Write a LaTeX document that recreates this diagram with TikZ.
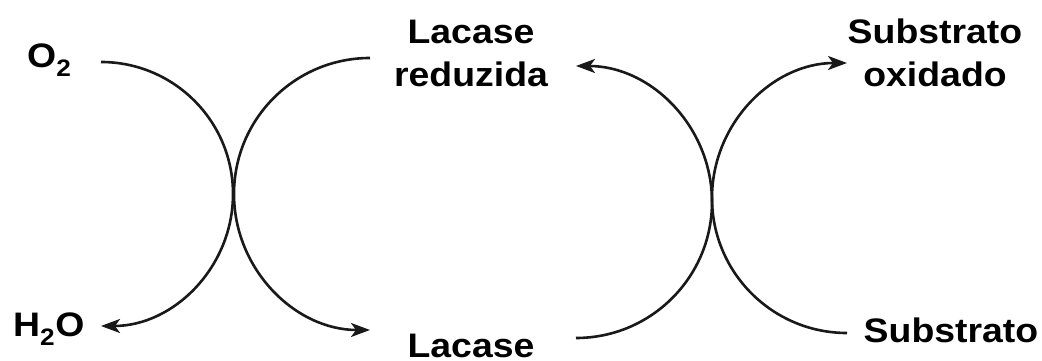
\documentclass[tikz,border=0pt]{standalone}
\usepackage{fontspec}
\setmainfont{Liberation Sans}
\usetikzlibrary{arrows.meta}
\newcommand{\widetxt}[1]{\scalebox{1.1}[1]{#1}}
\tikzset{
  lbl/.style={font=\bfseries\fontsize{34}{43}\selectfont, inner sep=0pt, align=center, text=black},
  cyc/.style={line width=2.6pt, draw=black!90},
  cycarrow/.style={cyc, -{Stealth[length=19pt,width=14pt,inset=5pt]}}
}
\begin{document}
\begin{tikzpicture}[x=1pt,y=1pt]
\useasboundingbox (0,0) rectangle (1042,361);
% labels
\node[lbl, anchor=base west] (o2) at (27,293) {\widetxt{O\textsubscript{2}}};
\node[lbl, anchor=base west] (h2o) at (13,24) {\widetxt{H\textsubscript{2}O}};
\node[lbl, anchor=base] (lacred) at (471,274) {\widetxt{Lacase}\\\widetxt{reduzida}};
\node[lbl, anchor=base] (lac) at (471,3) {\widetxt{Lacase}};
\node[lbl, anchor=base] (subox) at (935,274) {\widetxt{Substrato}\\\widetxt{oxidado}};
\node[lbl, anchor=base] (sub) at (951,18) {\widetxt{Substrato}};
% arc end points
\coordinate (a1s) at (101,299);
\coordinate (a2s) at (370,303);
\coordinate (a3s) at (576,23);
\coordinate (a4s) at (847,28);
% cycles
\draw[cycarrow] (a1s) arc[start angle=90, end angle=-90, radius=132];
\draw[cycarrow] (a2s) arc[start angle=90, end angle=270, radius=136];
\draw[cycarrow] (a3s) arc[start angle=-90, end angle=90, radius=136];
\draw[cycarrow] (a4s) arc[start angle=270, end angle=90, radius=135];
\end{tikzpicture}
\end{document}
